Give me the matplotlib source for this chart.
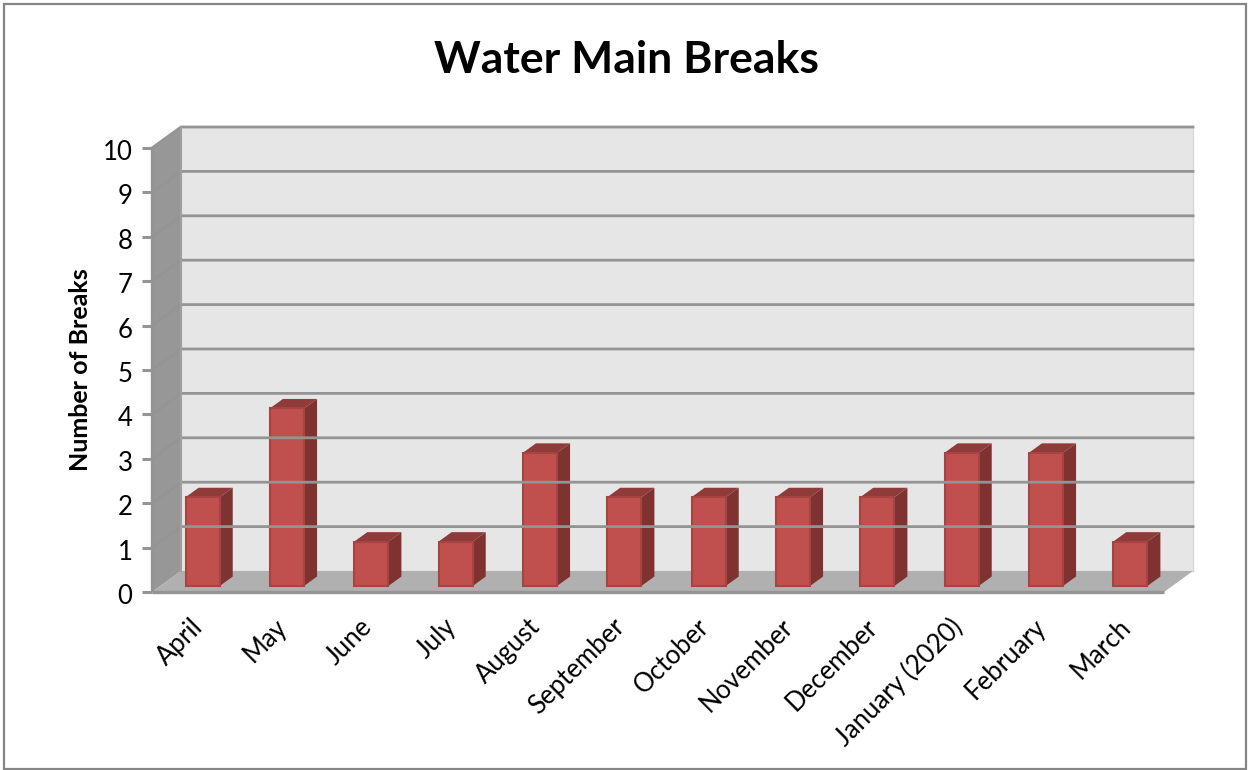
import matplotlib
matplotlib.use("Agg")
import matplotlib.pyplot as plt
from matplotlib.patches import Polygon, Rectangle
from matplotlib.transforms import ScaledTranslation

months = ["April", "May", "June", "July", "August", "September", "October",
          "November", "December", "January (2020)", "February", "March"]
breaks = [2, 4, 1, 1, 3, 2, 2, 2, 2, 3, 3, 1]
y_ticks = list(range(0, 11))

W, H = 1248, 770
GRID = "#949494"

# oblique depth of the box, in data units
DX, DY = 0.344, 0.473
BAR_W = 0.405
BAR_DEPTH = 0.45
BAR_BASE = 0.135

plt.rcParams["font.family"] = ["Lato", "DejaVu Sans"]

fig = plt.figure(figsize=(W / 100, H / 100), dpi=100)
fig.add_artist(Rectangle((3.5 / W, 1 - 768.5 / H), 1242.5 / W, 765 / H,
                         transform=fig.transFigure, fill=False,
                         ec="#868686", lw=1.6))

ax = fig.add_axes([152 / W, 1 - 592 / H, 1012 / W, 444 / H])
ax.set_xlim(0, len(months))
ax.set_ylim(0, 10)
ax.patch.set_visible(False)
for s in ax.spines.values():
    s.set_visible(False)


def poly(pts, **kw):
    kw.setdefault("lw", 0)
    ax.add_patch(Polygon(pts, closed=True, clip_on=False, **kw))


def nudge(label, dx_px, dy_px):
    # shift a tick label by a few pixels
    label.set_transform(label.get_transform()
                        + ScaledTranslation(dx_px / 100, dy_px / 100, fig.dpi_scale_trans))


n = len(months)
# walls and floor
poly([(DX, DY), (n + DX, DY), (n + DX, 10 + DY), (DX, 10 + DY)], fc="#e6e6e6", ec="#d8d8d8", lw=1)
poly([(0, 0), (DX, DY), (DX, 10 + DY), (0, 10)], fc="#979797")
poly([(0, 0), (n, 0), (n + DX, DY), (DX, DY)], fc="#b0b0b0")

# gridlines run along the side wall and across the back
for v in y_ticks[1:]:
    ax.plot([0, DX, n + DX], [v, v + DY, v + DY], color=GRID, lw=2,
            clip_on=False, solid_joinstyle="miter")
ax.plot([DX, DX], [DY, 10 + DY], color="#a0a0a0", lw=1.5, clip_on=False)

# bars, each with front, side and top faces
for i, v in enumerate(breaks):
    x0 = i + 0.5 - BAR_W / 2 + 0.1
    x1 = x0 + BAR_W
    y0 = BAR_BASE
    top = y0 + v
    bx, by = BAR_DEPTH * DX, BAR_DEPTH * DY
    poly([(x1, y0), (x1 + bx, y0 + by), (x1 + bx, top + by), (x1, top)], fc="#7f3331")
    poly([(x0, top), (x1, top), (x1 + bx, top + by), (x0 + bx, top + by)], fc="#8f3b39")
    ax.add_patch(Rectangle((x0, y0), BAR_W, v, fc="#c0504d", ec="#a54441",
                           lw=1.5, clip_on=False))

# axis lines drawn over the box
ax.plot([0, n], [0, 0], color=GRID, lw=2.4, clip_on=False, solid_capstyle="butt")
ax.plot([0, 0], [0, 10], color=GRID, lw=2.4, clip_on=False, solid_capstyle="butt")

ax.set_yticks(y_ticks)
ax.set_xticks([i + 0.5 for i in range(n)])
ax.set_xticklabels(months, rotation=45, ha="right", rotation_mode="anchor", fontsize=18.5)
ax.tick_params(axis="x", length=0, pad=16)
ax.tick_params(axis="y", length=7, width=2.2, color=GRID, labelsize=18.5, pad=7)
ax.set_ylabel("Number of Breaks", fontsize=18, fontweight="bold", labelpad=8)
for lab in ax.get_xticklabels():
    nudge(lab, -4, 0)
for lab in ax.get_yticklabels():
    nudge(lab, 0, -2)

fig.text(626.5 / W, 1 - 60 / H, "Water Main Breaks", fontsize=32, fontweight="bold",
         ha="center", va="center", color="black")

fig.savefig("out.png", dpi=100, facecolor="white")
